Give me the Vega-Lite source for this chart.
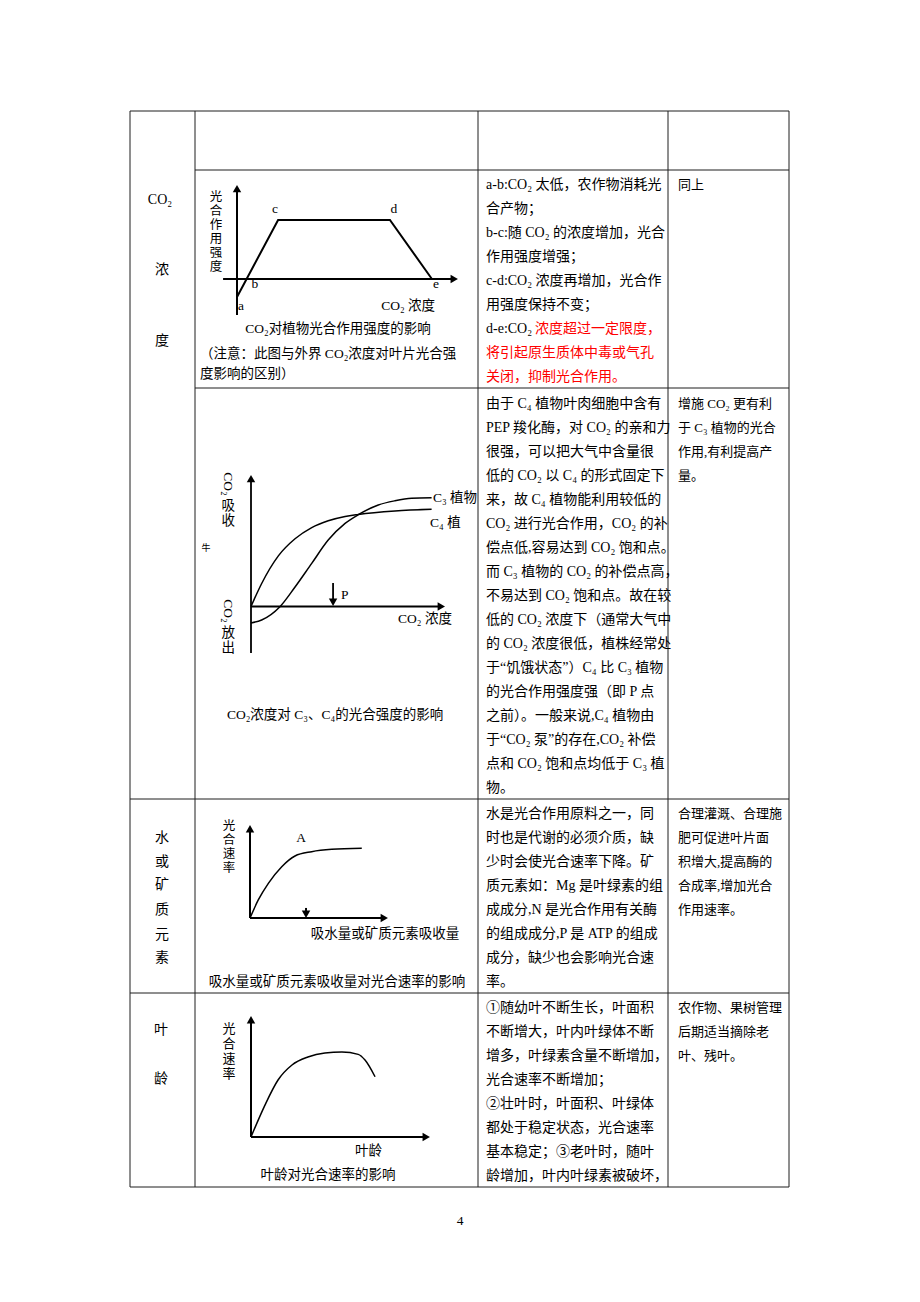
{
  "$schema": "https://vega.github.io/schema/vega-lite/v6.json",
  "width": 920,
  "height": 1302,
  "padding": 0,
  "autosize": {"type": "none"},
  "background": "#ffffff",
  "config": {"view": {"stroke": null}},
  "datasets": {
    "grid": [
      {"x": 130, "y": 111, "x2": 789, "y2": 111},
      {"x": 195, "y": 170, "x2": 789, "y2": 170},
      {"x": 195, "y": 388, "x2": 789, "y2": 388},
      {"x": 130, "y": 799, "x2": 789, "y2": 799},
      {"x": 130, "y": 993, "x2": 789, "y2": 993},
      {"x": 130, "y": 1187, "x2": 789, "y2": 1187},
      {"x": 130, "y": 111, "x2": 130, "y2": 1187},
      {"x": 195, "y": 111, "x2": 195, "y2": 1187},
      {"x": 478, "y": 111, "x2": 478, "y2": 1187},
      {"x": 668, "y": 111, "x2": 668, "y2": 1187},
      {"x": 789, "y": 111, "x2": 789, "y2": 1187}
    ],
    "body": [
      {"x": 486, "y": 185, "t": "a-b:CO₂ 太低，农作物消耗光", "tone": "plain"},
      {"x": 486, "y": 209, "t": "合产物；", "tone": "plain"},
      {"x": 486, "y": 233, "t": "b-c:随 CO₂ 的浓度增加，光合", "tone": "plain"},
      {"x": 486, "y": 257, "t": "作用强度增强；", "tone": "plain"},
      {"x": 486, "y": 281, "t": "c-d:CO₂ 浓度再增加，光合作", "tone": "plain"},
      {"x": 486, "y": 305, "t": "用强度保持不变；", "tone": "plain"},
      {"x": 486, "y": 329, "t": "d-e:CO₂", "tone": "plain"},
      {"x": 535, "y": 329, "t": "浓度超过一定限度，", "tone": "alert"},
      {"x": 486, "y": 353, "t": "将引起原生质体中毒或气孔", "tone": "alert"},
      {"x": 486, "y": 377, "t": "关闭，抑制光合作用。", "tone": "alert"},
      {"x": 486, "y": 404, "t": "由于 C₄ 植物叶肉细胞中含有", "tone": "plain"},
      {"x": 486, "y": 428, "t": "PEP 羧化酶，对 CO₂ 的亲和力", "tone": "plain"},
      {"x": 486, "y": 452, "t": "很强，可以把大气中含量很", "tone": "plain"},
      {"x": 486, "y": 476, "t": "低的 CO₂ 以 C₄ 的形式固定下", "tone": "plain"},
      {"x": 486, "y": 500, "t": "来，故 C₄ 植物能利用较低的", "tone": "plain"},
      {"x": 486, "y": 524, "t": "CO₂ 进行光合作用，CO₂ 的补", "tone": "plain"},
      {"x": 486, "y": 548, "t": "偿点低,容易达到 CO₂ 饱和点。", "tone": "plain"},
      {"x": 486, "y": 572, "t": "而 C₃ 植物的 CO₂ 的补偿点高，", "tone": "plain"},
      {"x": 486, "y": 596, "t": "不易达到 CO₂ 饱和点。故在较", "tone": "plain"},
      {"x": 486, "y": 620, "t": "低的 CO₂ 浓度下（通常大气中", "tone": "plain"},
      {"x": 486, "y": 644, "t": "的 CO₂ 浓度很低，植株经常处", "tone": "plain"},
      {"x": 486, "y": 668, "t": "于“饥饿状态”）C₄ 比 C₃ 植物", "tone": "plain"},
      {"x": 486, "y": 692, "t": "的光合作用强度强（即 P 点", "tone": "plain"},
      {"x": 486, "y": 716, "t": "之前）。一般来说,C₄ 植物由", "tone": "plain"},
      {"x": 486, "y": 740, "t": "于“CO₂ 泵”的存在,CO₂ 补偿", "tone": "plain"},
      {"x": 486, "y": 764, "t": "点和 CO₂ 饱和点均低于 C₃ 植", "tone": "plain"},
      {"x": 486, "y": 788, "t": "物。", "tone": "plain"},
      {"x": 486, "y": 814, "t": "水是光合作用原料之一，同", "tone": "plain"},
      {"x": 486, "y": 838, "t": "时也是代谢的必须介质，缺", "tone": "plain"},
      {"x": 486, "y": 862, "t": "少时会使光合速率下降。矿", "tone": "plain"},
      {"x": 486, "y": 886, "t": "质元素如：Mg 是叶绿素的组", "tone": "plain"},
      {"x": 486, "y": 910, "t": "成成分,N 是光合作用有关酶", "tone": "plain"},
      {"x": 486, "y": 934, "t": "的组成成分,P 是 ATP 的组成", "tone": "plain"},
      {"x": 486, "y": 958, "t": "成分，缺少也会影响光合速", "tone": "plain"},
      {"x": 486, "y": 982, "t": "率。", "tone": "plain"},
      {"x": 486, "y": 1008, "t": "①随幼叶不断生长，叶面积", "tone": "plain"},
      {"x": 486, "y": 1032, "t": "不断增大，叶内叶绿体不断", "tone": "plain"},
      {"x": 486, "y": 1056, "t": "增多，叶绿素含量不断增加，", "tone": "plain"},
      {"x": 486, "y": 1080, "t": "光合速率不断增加；", "tone": "plain"},
      {"x": 486, "y": 1104, "t": "②壮叶时，叶面积、叶绿体", "tone": "plain"},
      {"x": 486, "y": 1128, "t": "都处于稳定状态，光合速率", "tone": "plain"},
      {"x": 486, "y": 1152, "t": "基本稳定；③老叶时，随叶", "tone": "plain"},
      {"x": 486, "y": 1176, "t": "龄增加，叶内叶绿素被破坏，", "tone": "plain"}
    ],
    "col3": [
      {"x": 678, "y": 185, "t": "同上"},
      {"x": 678, "y": 404, "t": "增施 CO₂ 更有利"},
      {"x": 678, "y": 428, "t": "于 C₃ 植物的光合"},
      {"x": 678, "y": 452, "t": "作用,有利提高产"},
      {"x": 678, "y": 476, "t": "量。"},
      {"x": 678, "y": 814, "t": "合理灌溉、合理施"},
      {"x": 678, "y": 838, "t": "肥可促进叶片面"},
      {"x": 678, "y": 862, "t": "积增大,提高酶的"},
      {"x": 678, "y": 886, "t": "合成率,增加光合"},
      {"x": 678, "y": 910, "t": "作用速率。"},
      {"x": 678, "y": 1008, "t": "农作物、果树管理"},
      {"x": 678, "y": 1032, "t": "后期适当摘除老"},
      {"x": 678, "y": 1056, "t": "叶、残叶。"}
    ],
    "side": [
      {"x": 160, "y": 200, "t": "CO₂"},
      {"x": 162, "y": 270, "t": "浓"},
      {"x": 162, "y": 341, "t": "度"},
      {"x": 162, "y": 838, "t": "水"},
      {"x": 162, "y": 862, "t": "或"},
      {"x": 162, "y": 885, "t": "矿"},
      {"x": 162, "y": 910, "t": "质"},
      {"x": 162, "y": 935, "t": "元"},
      {"x": 162, "y": 958, "t": "素"},
      {"x": 161, "y": 1030, "t": "叶"},
      {"x": 161, "y": 1079, "t": "龄"}
    ],
    "capC": [
      {"x": 338, "y": 329, "t": "CO₂对植物光合作用强度的影响"},
      {"x": 335, "y": 715, "t": "CO₂浓度对 C₃、C₄的光合强度的影响"},
      {"x": 337, "y": 982, "t": "吸水量或矿质元素吸收量对光合速率的影响"},
      {"x": 328, "y": 1175, "t": "叶龄对光合速率的影响"},
      {"x": 460, "y": 1221, "t": "4"}
    ],
    "capL": [
      {"x": 200, "y": 354, "t": "（注意：此图与外界 CO₂浓度对叶片光合强"},
      {"x": 200, "y": 374, "t": "度影响的区别）"}
    ],
    "c1": [
      {"part": "axis", "x": -6.3, "y": 0, "x2": 98.3, "y2": 0},
      {"part": "axis", "x": 0, "y": -38.3, "x2": 0, "y2": 96.1},
      {"part": "head", "x": 98.3, "y": 0, "dir": "right"},
      {"part": "head", "x": 0, "y": 96.1, "dir": "up"},
      {"part": "curve", "s": "rate", "x": 0, "y": -19.1},
      {"part": "curve", "s": "rate", "x": 18.6, "y": 62.8},
      {"part": "curve", "s": "rate", "x": 69.2, "y": 62.8},
      {"part": "curve", "s": "rate", "x": 88.2, "y": 0},
      {"part": "label", "x": 17.2, "y": 74.5, "t": "c"},
      {"part": "label", "x": 71, "y": 74.5, "t": "d"},
      {"part": "label", "x": 8.1, "y": -5.3, "t": "b"},
      {"part": "label", "x": 90, "y": -5.3, "t": "e"},
      {"part": "label", "x": 1.8, "y": -28.7, "t": "a"},
      {"part": "label", "x": 77.4, "y": -28.7, "t": "CO₂ 浓度"},
      {"part": "vlabel", "x": -9.5, "y": 87.2, "t": "光\n合\n作\n用\n强\n度"}
    ],
    "c2": [
      {"part": "axis", "x": 0, "y": 0, "x2": 98.1, "y2": 0},
      {"part": "axis", "x": 0, "y": -35.4, "x2": 0, "y2": 97.2},
      {"part": "axis", "x": 42.3, "y": 17.9, "x2": 42.3, "y2": 3.2},
      {"part": "head", "x": 98.1, "y": 0, "dir": "right"},
      {"part": "head", "x": 0, "y": 97.2, "dir": "up"},
      {"part": "head", "x": 42.3, "y": 3.2, "dir": "down"},
      {"part": "curve", "s": "C4", "x": 0, "y": 0},
      {"part": "curve", "s": "C4", "x": 5.5, "y": 17.5},
      {"part": "curve", "s": "C4", "x": 14.1, "y": 38.5},
      {"part": "curve", "s": "C4", "x": 22.7, "y": 51.5},
      {"part": "curve", "s": "C4", "x": 31.3, "y": 60},
      {"part": "curve", "s": "C4", "x": 39.8, "y": 65.2},
      {"part": "curve", "s": "C4", "x": 48.5, "y": 68.5},
      {"part": "curve", "s": "C4", "x": 55.3, "y": 70},
      {"part": "curve", "s": "C4", "x": 74.2, "y": 72.6},
      {"part": "curve", "s": "C4", "x": 93.1, "y": 73.9},
      {"part": "curve", "s": "C3", "x": 0, "y": -12.5},
      {"part": "curve", "s": "C3", "x": 5.5, "y": -10.3},
      {"part": "curve", "s": "C3", "x": 14.9, "y": -0.2},
      {"part": "curve", "s": "C3", "x": 22.7, "y": 14.8},
      {"part": "curve", "s": "C3", "x": 31.3, "y": 32.8},
      {"part": "curve", "s": "C3", "x": 39.8, "y": 50.5},
      {"part": "curve", "s": "C3", "x": 48.5, "y": 63.2},
      {"part": "curve", "s": "C3", "x": 55.3, "y": 69.8},
      {"part": "curve", "s": "C3", "x": 65.6, "y": 77.2},
      {"part": "curve", "s": "C3", "x": 74.2, "y": 80.4},
      {"part": "curve", "s": "C3", "x": 82.8, "y": 82.3},
      {"part": "curve", "s": "C3", "x": 93.1, "y": 82.7},
      {"part": "label", "x": 89.7, "y": -9.5, "t": "CO₂ 浓度"},
      {"part": "label", "x": -11.7, "y": 76.4, "t": "吸\n收"},
      {"part": "label", "x": -11.7, "y": -19.8, "t": "放\n出"},
      {"part": "labelL", "x": 93.8, "y": 82.6, "t": "C₃ 植物"},
      {"part": "labelL", "x": 92.3, "y": 63.5, "t": "C₄ 植"},
      {"part": "labelL", "x": 46.4, "y": 8.7, "t": "P"},
      {"part": "rot", "x": -11.7, "y": 93.2, "t": "CO₂"},
      {"part": "rot", "x": -11.7, "y": -3.4, "t": "CO₂"},
      {"part": "tiny", "x": -23.2, "y": 44.5, "t": "牛"}
    ],
    "c3": [
      {"part": "axis", "x": 0, "y": 0, "x2": 97.3, "y2": 0},
      {"part": "axis", "x": 0, "y": 0, "x2": 0, "y2": 96},
      {"part": "axis", "x": 40.6, "y": 10.8, "x2": 40.6, "y2": 4},
      {"part": "head", "x": 97.3, "y": 0, "dir": "right"},
      {"part": "head", "x": 0, "y": 96, "dir": "up"},
      {"part": "head", "x": 40.6, "y": 4, "dir": "down"},
      {"part": "curve", "s": "rate", "x": 0, "y": 0},
      {"part": "curve", "s": "rate", "x": 6, "y": 19.4},
      {"part": "curve", "s": "rate", "x": 13.3, "y": 37.3},
      {"part": "curve", "s": "rate", "x": 23, "y": 55.2},
      {"part": "curve", "s": "rate", "x": 32.6, "y": 66.7},
      {"part": "curve", "s": "rate", "x": 44.7, "y": 71.3},
      {"part": "curve", "s": "rate", "x": 59.2, "y": 73.8},
      {"part": "curve", "s": "rate", "x": 81, "y": 74.9},
      {"part": "label", "x": 37, "y": 86, "t": "A"},
      {"part": "vlabel", "x": -15.2, "y": 98.9, "t": "光\n合\n速\n率"},
      {"part": "label", "x": 97.8, "y": -17.2, "t": "吸水量或矿质元素吸收量"}
    ],
    "c4": [
      {"part": "axis", "x": 0, "y": 0, "x2": 97.9, "y2": 0},
      {"part": "axis", "x": 0, "y": 0, "x2": 0, "y2": 96.9},
      {"part": "head", "x": 97.9, "y": 0, "dir": "right"},
      {"part": "head", "x": 0, "y": 96.9, "dir": "up"},
      {"part": "curve", "s": "rate", "x": 0, "y": 0},
      {"part": "curve", "s": "rate", "x": 7.8, "y": 26.4},
      {"part": "curve", "s": "rate", "x": 15.1, "y": 47.1},
      {"part": "curve", "s": "rate", "x": 22.9, "y": 59.5},
      {"part": "curve", "s": "rate", "x": 31.8, "y": 66.1},
      {"part": "curve", "s": "rate", "x": 41.3, "y": 69.4},
      {"part": "curve", "s": "rate", "x": 50.8, "y": 70.2},
      {"part": "curve", "s": "rate", "x": 59.9, "y": 68.3},
      {"part": "curve", "s": "rate", "x": 63.7, "y": 63.6},
      {"part": "curve", "s": "rate", "x": 69.3, "y": 49.8},
      {"part": "vlabel", "x": -12.3, "y": 89.3, "t": "光\n合\n速\n率"},
      {"part": "label", "x": 65.6, "y": -11.6, "t": "叶龄"}
    ]
  },
  "resolve": {"scale": {"x": "independent", "y": "independent"}},
  "layer": [
    {
      "encoding": {
        "x": {"field": "x", "type": "quantitative", "scale": {"domain": [0, 920], "range": [0, 920], "nice": false, "zero": false}, "axis": null},
        "y": {"field": "y", "type": "quantitative", "scale": {"domain": [0, 1302], "range": [0, 1302], "nice": false, "zero": false}, "axis": null}
      },
      "layer": [
        {"data": {"name": "grid"}, "mark": {"type": "rule", "color": "#1e1e1e", "strokeWidth": 1}, "encoding": {"x2": {"field": "x2"}, "y2": {"field": "y2"}}},
        {"data": {"name": "body"}, "mark": {"type": "text", "align": "left", "baseline": "middle", "fontSize": 14, "font": "Liberation Serif, Noto Sans CJK SC"},
         "encoding": {"text": {"field": "t"}, "color": {"field": "tone", "type": "nominal", "scale": {"domain": ["plain", "alert"], "range": ["#000000", "#ff0000"]}, "legend": null}}},
        {"data": {"name": "col3"}, "mark": {"type": "text", "align": "left", "baseline": "middle", "fontSize": 13, "color": "#000000", "font": "Liberation Serif, Noto Sans CJK SC"}, "encoding": {"text": {"field": "t"}}},
        {"data": {"name": "side"}, "mark": {"type": "text", "align": "center", "baseline": "middle", "fontSize": 14, "color": "#000000", "font": "Liberation Serif, Noto Sans CJK SC"}, "encoding": {"text": {"field": "t"}}},
        {"data": {"name": "capC"}, "mark": {"type": "text", "align": "center", "baseline": "middle", "fontSize": 13.5, "color": "#000000", "font": "Liberation Serif, Noto Sans CJK SC"}, "encoding": {"text": {"field": "t"}}},
        {"data": {"name": "capL"}, "mark": {"type": "text", "align": "left", "baseline": "middle", "fontSize": 13.5, "color": "#000000", "font": "Liberation Serif, Noto Sans CJK SC"}, "encoding": {"text": {"field": "t"}}}
      ]
    },
    {
      "data": {"name": "c1"},
      "encoding": {
        "x": {"field": "x", "type": "quantitative", "scale": {"domain": [0, 100], "range": [237, 458], "nice": false, "zero": false}, "axis": null},
        "y": {"field": "y", "type": "quantitative", "scale": {"domain": [0, 100], "range": [279, 185], "nice": false, "zero": false}, "axis": null}
      },
      "layer": [
        {"transform": [{"filter": "datum.part === 'axis'"}], "mark": {"type": "rule", "color": "#000000", "strokeWidth": 2}, "encoding": {"x2": {"field": "x2"}, "y2": {"field": "y2"}}},
        {"transform": [{"filter": "datum.part === 'head'"}], "mark": {"type": "point", "filled": true, "color": "#000000", "opacity": 1, "size": 72},
         "encoding": {"shape": {"field": "dir", "type": "nominal", "scale": {"domain": ["up", "right", "down"], "range": ["triangle-up", "triangle-right", "triangle-down"]}, "legend": null}}},
        {"transform": [{"filter": "datum.part === 'curve'"}], "mark": {"type": "line", "color": "#000000", "strokeWidth": 2, "interpolate": "linear"}, "encoding": {"detail": {"field": "s"}}},
        {"transform": [{"filter": "datum.part === 'label'"}], "mark": {"type": "text", "align": "center", "baseline": "middle", "fontSize": 13.5, "color": "#000000", "font": "Liberation Serif, Noto Sans CJK SC"}, "encoding": {"text": {"field": "t"}}},
        {"transform": [{"filter": "datum.part === 'vlabel'"}], "mark": {"type": "text", "align": "center", "baseline": "middle", "fontSize": 12.5, "color": "#000000", "lineBreak": "\n", "lineHeight": 14, "font": "Liberation Serif, Noto Sans CJK SC"}, "encoding": {"text": {"field": "t"}}}
      ]
    },
    {
      "data": {"name": "c2"},
      "encoding": {
        "x": {"field": "x", "type": "quantitative", "scale": {"domain": [0, 100], "range": [251, 445], "nice": false, "zero": false}, "axis": null},
        "y": {"field": "y", "type": "quantitative", "scale": {"domain": [0, 100], "range": [606.5, 475], "nice": false, "zero": false}, "axis": null}
      },
      "layer": [
        {"transform": [{"filter": "datum.part === 'axis'"}], "mark": {"type": "rule", "color": "#000000", "strokeWidth": 1.8}, "encoding": {"x2": {"field": "x2"}, "y2": {"field": "y2"}}},
        {"transform": [{"filter": "datum.part === 'head'"}], "mark": {"type": "point", "filled": true, "color": "#000000", "opacity": 1, "size": 72},
         "encoding": {"shape": {"field": "dir", "type": "nominal", "scale": {"domain": ["up", "right", "down"], "range": ["triangle-up", "triangle-right", "triangle-down"]}, "legend": null}}},
        {"transform": [{"filter": "datum.part === 'curve'"}], "mark": {"type": "line", "color": "#000000", "strokeWidth": 1.5, "interpolate": "monotone"}, "encoding": {"detail": {"field": "s"}}},
        {"transform": [{"filter": "datum.part === 'label'"}], "mark": {"type": "text", "align": "center", "baseline": "middle", "fontSize": 13.5, "color": "#000000", "lineBreak": "\n", "lineHeight": 15, "font": "Liberation Serif, Noto Sans CJK SC"}, "encoding": {"text": {"field": "t"}}},
        {"transform": [{"filter": "datum.part === 'labelL'"}], "mark": {"type": "text", "align": "left", "baseline": "middle", "fontSize": 13.5, "color": "#000000", "font": "Liberation Serif, Noto Sans CJK SC"}, "encoding": {"text": {"field": "t"}}},
        {"transform": [{"filter": "datum.part === 'rot'"}], "mark": {"type": "text", "align": "center", "baseline": "middle", "angle": 90, "fontSize": 13.5, "color": "#000000", "font": "Liberation Serif, Noto Sans CJK SC"}, "encoding": {"text": {"field": "t"}}},
        {"transform": [{"filter": "datum.part === 'tiny'"}], "mark": {"type": "text", "align": "center", "baseline": "middle", "fontSize": 9, "color": "#000000", "font": "Liberation Serif, Noto Sans CJK SC"}, "encoding": {"text": {"field": "t"}}}
      ]
    },
    {
      "data": {"name": "c3"},
      "encoding": {
        "x": {"field": "x", "type": "quantitative", "scale": {"domain": [0, 100], "range": [250, 388], "nice": false, "zero": false}, "axis": null},
        "y": {"field": "y", "type": "quantitative", "scale": {"domain": [0, 100], "range": [918, 825], "nice": false, "zero": false}, "axis": null}
      },
      "layer": [
        {"transform": [{"filter": "datum.part === 'axis'"}], "mark": {"type": "rule", "color": "#000000", "strokeWidth": 2}, "encoding": {"x2": {"field": "x2"}, "y2": {"field": "y2"}}},
        {"transform": [{"filter": "datum.part === 'head'"}], "mark": {"type": "point", "filled": true, "color": "#000000", "opacity": 1, "size": 72},
         "encoding": {"shape": {"field": "dir", "type": "nominal", "scale": {"domain": ["up", "right", "down"], "range": ["triangle-up", "triangle-right", "triangle-down"]}, "legend": null}}},
        {"transform": [{"filter": "datum.part === 'curve'"}], "mark": {"type": "line", "color": "#000000", "strokeWidth": 1.5, "interpolate": "monotone"}, "encoding": {"detail": {"field": "s"}}},
        {"transform": [{"filter": "datum.part === 'label'"}], "mark": {"type": "text", "align": "center", "baseline": "middle", "fontSize": 13.5, "color": "#000000", "font": "Liberation Serif, Noto Sans CJK SC"}, "encoding": {"text": {"field": "t"}}},
        {"transform": [{"filter": "datum.part === 'vlabel'"}], "mark": {"type": "text", "align": "center", "baseline": "middle", "fontSize": 12.5, "color": "#000000", "lineBreak": "\n", "lineHeight": 14, "font": "Liberation Serif, Noto Sans CJK SC"}, "encoding": {"text": {"field": "t"}}}
      ]
    },
    {
      "data": {"name": "c4"},
      "encoding": {
        "x": {"field": "x", "type": "quantitative", "scale": {"domain": [0, 100], "range": [251, 430], "nice": false, "zero": false}, "axis": null},
        "y": {"field": "y", "type": "quantitative", "scale": {"domain": [0, 100], "range": [1137, 1016], "nice": false, "zero": false}, "axis": null}
      },
      "layer": [
        {"transform": [{"filter": "datum.part === 'axis'"}], "mark": {"type": "rule", "color": "#000000", "strokeWidth": 2}, "encoding": {"x2": {"field": "x2"}, "y2": {"field": "y2"}}},
        {"transform": [{"filter": "datum.part === 'head'"}], "mark": {"type": "point", "filled": true, "color": "#000000", "opacity": 1, "size": 72},
         "encoding": {"shape": {"field": "dir", "type": "nominal", "scale": {"domain": ["up", "right", "down"], "range": ["triangle-up", "triangle-right", "triangle-down"]}, "legend": null}}},
        {"transform": [{"filter": "datum.part === 'curve'"}], "mark": {"type": "line", "color": "#000000", "strokeWidth": 1.5, "interpolate": "monotone"}, "encoding": {"detail": {"field": "s"}}},
        {"transform": [{"filter": "datum.part === 'label'"}], "mark": {"type": "text", "align": "center", "baseline": "middle", "fontSize": 13.5, "color": "#000000", "font": "Liberation Serif, Noto Sans CJK SC"}, "encoding": {"text": {"field": "t"}}},
        {"transform": [{"filter": "datum.part === 'vlabel'"}], "mark": {"type": "text", "align": "center", "baseline": "middle", "fontSize": 13, "color": "#000000", "lineBreak": "\n", "lineHeight": 15, "font": "Liberation Serif, Noto Sans CJK SC"}, "encoding": {"text": {"field": "t"}}}
      ]
    }
  ]
}
